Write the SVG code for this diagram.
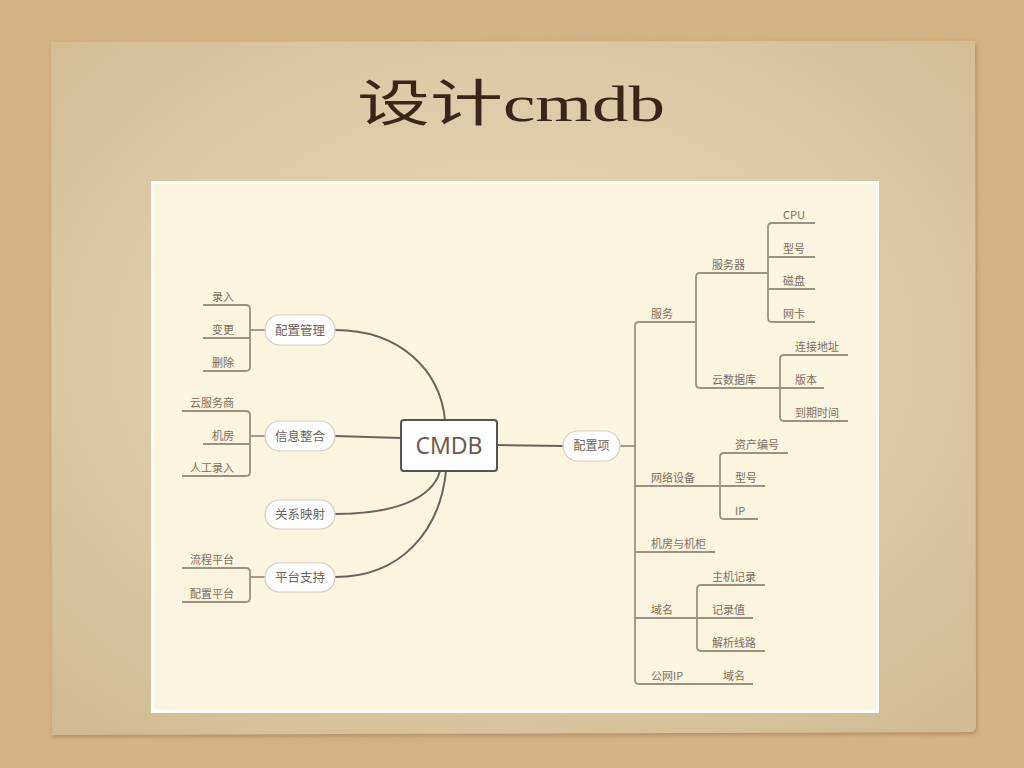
<svg xmlns="http://www.w3.org/2000/svg" width="1024" height="768" viewBox="0 0 1024 768">
<defs>
<radialGradient id="paper" cx="50%" cy="45%" r="70%">
<stop offset="0" stop-color="#e6d6b8"/>
<stop offset="0.6" stop-color="#ddc9a6"/>
<stop offset="1" stop-color="#d2bb92"/>
</radialGradient>
<filter id="grain" x="0" y="0" width="100%" height="100%">
<feTurbulence type="fractalNoise" baseFrequency="0.8" numOctaves="2" seed="3" result="n"/>
<feColorMatrix in="n" type="matrix" values="0 0 0 0 0.6  0 0 0 0 0.45  0 0 0 0 0.28  0 0 0 0.6 -0.15"/>
</filter>
<filter id="shadow" x="-5%" y="-5%" width="110%" height="110%">
<feDropShadow dx="1" dy="2" stdDeviation="2" flood-color="#5a3f20" flood-opacity="0.35"/>
</filter>
</defs>
<style>
.conn{fill:none;stroke:#66645c;stroke-width:2}
.br{fill:none;stroke:#9b9282;stroke-width:1.8;stroke-linejoin:round}
.pill{fill:#ffffff;stroke:#d6cec2;stroke-width:1.2}
.pt{font-family:"Noto Sans CJK SC","Noto Sans",sans-serif;font-size:12.5px;fill:#6e6258;text-anchor:middle}
.lt{font-family:"Noto Sans CJK SC","Noto Sans",sans-serif;font-size:11px;fill:#7a6e62}
.le{text-anchor:end}
</style>
<rect width="1024" height="768" fill="#d6b383"/>
<rect width="1024" height="768" filter="url(#grain)"/>
<g id="paper-sheet">
<path d="M51,42 L975,41 L976,728 L973,732 L52,735 Z" fill="url(#paper)" filter="url(#shadow)"/>
</g>
<text id="title" x="357" y="121" font-family="'Liberation Serif','Noto Sans CJK SC',serif" font-size="50" fill="#3a2619" textLength="308" lengthAdjust="spacingAndGlyphs">设计cmdb</text>
<rect x="151" y="181" width="728" height="532" fill="#ffffff"/>
<rect x="154" y="184" width="722" height="526" fill="#fbf4de"/>
<g id="connectors">
<path class="conn" d="M335,330 C400,330 440,370 445,420"/>
<path class="conn" d="M335,436 L401,438"/>
<path class="conn" d="M335,514 C392,514 432,500 440,471"/>
<path class="conn" d="M335,577 C402,577 440,530 446,471"/>
<path class="conn" d="M497,445 L563,446"/>
<path class="br" d="M620,446 L636,446"/>
<path class="br" d="M250,330 L265,330"/>
<path class="br" d="M250,436 L265,436"/>
<path class="br" d="M250,577 L265,577"/>
<path class="br" d="M203,305 L246,305 Q250,305 250,309 L250,367 Q250,371 246,371 L203,371 M203,338 L250,338"/>
<path class="br" d="M182,411 L246,411 Q250,411 250,415 L250,472 Q250,476 246,476 L182,476 M203,444 L250,444"/>
<path class="br" d="M182,568 L246,568 Q250,568 250,572 L250,598 Q250,602 246,602 L182,602"/>
<path class="br" d="M696,322 L639,322 Q635,322 635,326 L635,680 Q635,684 639,684 L753,684"/>
<path class="br" d="M635,486 L720,486 M635,552 L715,552 M635,618 L697,618"/>
<path class="br" d="M768,273 L700,273 Q696,273 696,277 L696,384 Q696,388 700,388 L780,388"/>
<path class="br" d="M815,223 L772,223 Q768,223 768,227 L768,318 Q768,322 772,322 L815,322 M768,257 L815,257 M768,289 L815,289"/>
<path class="br" d="M848,355 L784,355 Q780,355 780,359 L780,417 Q780,421 784,421 L848,421 M780,388 L824,388"/>
<path class="br" d="M788,453 L724,453 Q720,453 720,457 L720,515 Q720,519 724,519 L758,519 M720,486 L765,486"/>
<path class="br" d="M765,585 L701,585 Q697,585 697,589 L697,647 Q697,651 701,651 L765,651 M697,618 L753,618"/>
</g>
<g id="n-cmdb">
<rect x="401" y="420" width="96" height="51" rx="3" fill="#ffffff" stroke="#55554f" stroke-width="2"/>
<text x="449" y="454" font-family="'Noto Sans','Liberation Sans',sans-serif" font-size="23" fill="#6b5b4f" text-anchor="middle">CMDB</text>
</g>
<g id="n-peizhiguanli"><rect class="pill" x="265" y="315" width="70" height="30" rx="15"/><text class="pt" x="300" y="335">配置管理</text></g>
<g id="n-xinxizhenghe"><rect class="pill" x="265" y="421" width="70" height="30" rx="15"/><text class="pt" x="300" y="441">信息整合</text></g>
<g id="n-guanxiyingshe"><rect class="pill" x="265" y="500" width="70" height="29" rx="14.5"/><text class="pt" x="300" y="519">关系映射</text></g>
<g id="n-pingtaizhichi"><rect class="pill" x="265" y="563" width="70" height="29" rx="14.5"/><text class="pt" x="300" y="582">平台支持</text></g>
<g id="n-peizhixiang"><rect class="pill" x="563" y="431" width="57" height="30" rx="15"/><text class="pt" x="591.5" y="450" style="font-size:12px">配置项</text></g>
<g id="left-leaves">
<text class="lt le" x="234" y="301">录入</text>
<text class="lt le" x="234" y="334">变更</text>
<text class="lt le" x="234" y="367">删除</text>
<text class="lt le" x="234" y="407">云服务商</text>
<text class="lt le" x="234" y="440">机房</text>
<text class="lt le" x="234" y="472">人工录入</text>
<text class="lt le" x="234" y="564">流程平台</text>
<text class="lt le" x="234" y="598">配置平台</text>
</g>
<g id="right-leaves">
<text class="lt" x="651" y="318">服务</text>
<text class="lt" x="712" y="269">服务器</text>
<text class="lt" x="783" y="219">CPU</text>
<text class="lt" x="783" y="253">型号</text>
<text class="lt" x="783" y="285">磁盘</text>
<text class="lt" x="783" y="318">网卡</text>
<text class="lt" x="712" y="384">云数据库</text>
<text class="lt" x="795" y="351">连接地址</text>
<text class="lt" x="795" y="384">版本</text>
<text class="lt" x="795" y="417">到期时间</text>
<text class="lt" x="651" y="482">网络设备</text>
<text class="lt" x="735" y="449">资产编号</text>
<text class="lt" x="735" y="482">型号</text>
<text class="lt" x="735" y="515">IP</text>
<text class="lt" x="651" y="548">机房与机柜</text>
<text class="lt" x="651" y="614">域名</text>
<text class="lt" x="712" y="581">主机记录</text>
<text class="lt" x="712" y="614">记录值</text>
<text class="lt" x="712" y="647">解析线路</text>
<text class="lt" x="651" y="680">公网IP</text>
<text class="lt" x="723" y="680">域名</text>
</g>
</svg>
